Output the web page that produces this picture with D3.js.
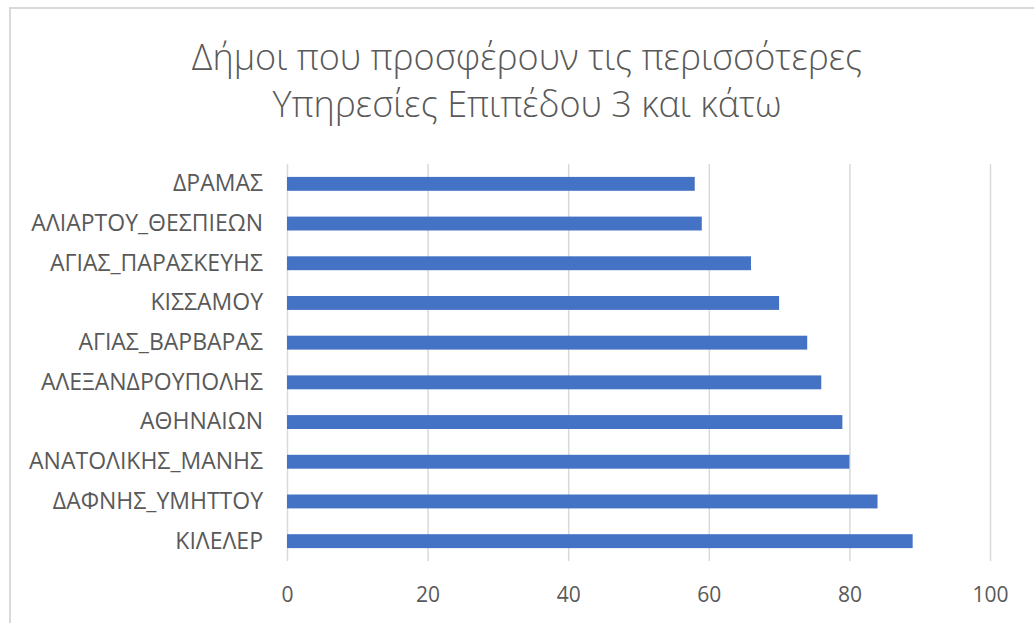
<!DOCTYPE html>
<html>
<head>
<meta charset="utf-8">
<script src="https://cdn.jsdelivr.net/npm/d3@7"></script>
<style>
	body { margin: 0; background: #fff; }
	text { font-family: "Open Sans", "Noto Sans", sans-serif; fill: #595959; }
</style>
</head>
<body>
<figure id="chart" style="margin:0"></figure>
<script>
// top to bottom, as shown on the chart
var categories = [ "ΔΡΑΜΑΣ", "ΑΛΙΑΡΤΟΥ_ΘΕΣΠΙΕΩΝ", "ΑΓΙΑΣ_ΠΑΡΑΣΚΕΥΗΣ", "ΚΙΣΣΑΜΟΥ", "ΑΓΙΑΣ_ΒΑΡΒΑΡΑΣ",
	"ΑΛΕΞΑΝΔΡΟΥΠΟΛΗΣ", "ΑΘΗΝΑΙΩΝ", "ΑΝΑΤΟΛΙΚΗΣ_ΜΑΝΗΣ", "ΔΑΦΝΗΣ_ΥΜΗΤΤΟΥ", "ΚΙΛΕΛΕΡ" ];
var values = [ 58, 59, 66, 70, 74, 76, 79, 80, 84, 89 ];
var xTicks = [ 0, 20, 40, 60, 80, 100 ];
var titleLines = [ "Δήμοι που προσφέρουν τις περισσότερες", "Υπηρεσίες Επιπέδου 3 και κάτω" ];

var dimensions = {
	width: 1034,
	height: 623,
	margin: { top: 164, right: 44, bottom: 62, left: 287 }
};
dimensions.boundedWidth = dimensions.width - dimensions.margin.left - dimensions.margin.right
dimensions.boundedHeight = dimensions.height - dimensions.margin.top - dimensions.margin.bottom

var svg = d3.select( "figure#chart" )
	.append( "svg" )
	.attr( "width", dimensions.width )
	.attr( "height", dimensions.height );

// chart border
svg.append( "rect" )
	.attr( "x", 10 ).attr( "y", 8 )
	.attr( "width", 1040 ).attr( "height", 640 )
	.attr( "fill", "none" )
	.attr( "stroke", "#d9d9d9" )
	.attr( "stroke-width", 2 );

// title
svg.append( "g" ).selectAll( "text" )
	.data( titleLines )
	.enter()
	.append( "text" )
	.attr( "x", 527 )
	.attr( "y", ( d, i ) => 70 + i * 47 )
	.attr( "text-anchor", "middle" )
	.style( "font-size", "36px" )
	.style( "font-weight", 300 )
	.text( d => d );

var bounds = svg.append( "g" )
	.attr( "transform", `translate(${dimensions.margin.left},${dimensions.margin.top})` );

var xScale = d3.scaleLinear()
	.domain( [ 0, 100 ] )
	.range( [ 0, dimensions.boundedWidth ] );

var yScale = d3.scaleBand()
	.domain( categories )
	.range( [ 0, dimensions.boundedHeight ] )
	.paddingInner( 0.65 )
	.paddingOuter( 0.325 );

// gridlines + tick labels
var xAxis = bounds.append( "g" )
	.attr( "class", "x-axis" )
	.attr( "transform", `translate(0, ${dimensions.boundedHeight})` )
	.call( d3.axisBottom( xScale )
		.tickValues( xTicks )
		.tickSize( -dimensions.boundedHeight )
		.tickPadding( 26 ) )
	.call( g => g.select( ".domain" ).remove() );

xAxis.selectAll( "line" )
	.attr( "stroke", "#d9d9d9" )
	.attr( "stroke-width", 1.5 );

xAxis.selectAll( "text" )
	.style( "font-size", "21px" )
	.style( "fill", "#595959" );

bounds.selectAll( "rect.bar" )
	.data( values )
	.enter()
	.append( "rect" )
	.attr( "class", "bar" )
	.attr( "x", xScale( 0 ) )
	.attr( "y", ( d, i ) => yScale( categories[ i ] ) )
	.attr( "width", d => xScale( d ) - xScale( 0 ) )
	.attr( "height", yScale.bandwidth() )
	.attr( "fill", "#4472c4" );

var yAxis = bounds.append( "g" )
	.attr( "class", "y-axis" )
	.call( d3.axisLeft( yScale )
		.tickSize( 0 )
		.tickPadding( 24 ) )
	.call( g => g.select( ".domain" ).remove() );

yAxis.selectAll( "text" )
	.style( "font-size", "23px" )
	.style( "fill", "#595959" );
</script>
</body>
</html>
